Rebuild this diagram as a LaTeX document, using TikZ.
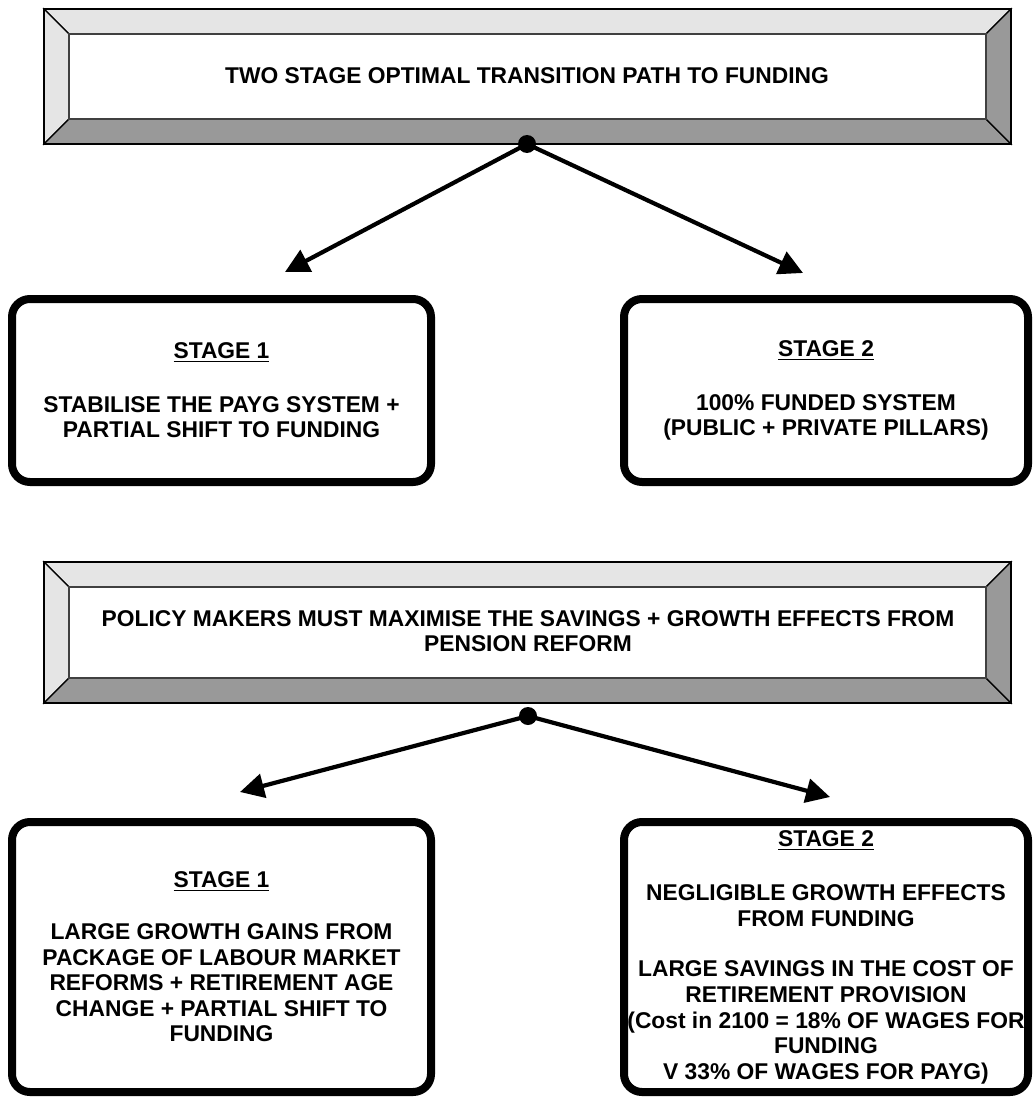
\documentclass[tikz,border=0pt]{standalone}
\usepackage{fontspec}
\setmainfont{Liberation Sans}
\usetikzlibrary{arrows.meta}
\def\bevelbox(#1,#2)(#3,#4)(#5){%
	\filldraw[fill=black!10] (#1,#2) -- (#3,#2) -- ({#3-#5},{#2+#5}) -- ({#1+#5},{#2+#5}) -- cycle;
	\filldraw[fill=black!10] (#1,#2) -- ({#1+#5},{#2+#5}) -- ({#1+#5},{#4-#5}) -- (#1,#4) -- cycle;
	\filldraw[fill=black!40] (#1,#4) -- ({#1+#5},{#4-#5}) -- ({#3-#5},{#4-#5}) -- (#3,#4) -- cycle;
	\filldraw[fill=black!40] (#3,#2) -- (#3,#4) -- ({#3-#5},{#4-#5}) -- ({#3-#5},{#2+#5}) -- cycle;
	\draw[black!75, line width=0.9pt] ({#1+#5},{#2+#5}) rectangle ({#3-#5},{#4-#5});
	\draw[line width=0.8pt] (#1,#2) rectangle (#3,#4);}

\begin{document}
\begin{tikzpicture}[x=0.5pt, y=-0.5pt, line width=0.6pt,
	font=\bfseries\fontsize{11.4pt}{12.8pt}\selectfont,
	stagebox/.style={draw, line width=4pt, rounded corners=9pt, align=center, inner sep=0pt},
	fork/.style={circle, fill=black, inner sep=0pt, minimum size=9pt},
	flow/.style={line width=2.1pt, -{Triangle[length=12pt,width=12pt]}}]
		%%%%% START %%%%%
		\useasboundingbox (0,0) rectangle (1033,1097);
		
		\bevelbox(44,9)(1011,144)(25)
		\node (title1) at (527,76) {TWO STAGE OPTIMAL TRANSITION PATH TO FUNDING};
		
		\node[fork] (fork1) at (527,144) {};
		\coordinate (tip1a) at (285,272);
		\coordinate (tip1b) at (803,273);
		\draw[flow] (fork1.center) -- (tip1a);
		\draw[flow] (fork1.center) -- (tip1b);
		
		\node[stagebox, minimum width=209.5pt, minimum height=91.5pt] (stage1a) at (221.5,390.5)
			{\underline{STAGE 1}\\[14pt] STABILISE THE PAYG SYSTEM +\\ PARTIAL SHIFT TO FUNDING};
		\node[stagebox, minimum width=202pt, minimum height=91.5pt] (stage2a) at (826,390.5)
			{\underline{STAGE 2}\\[14pt] 100\% FUNDED SYSTEM\\ (PUBLIC + PRIVATE PILLARS)};
		
		\bevelbox(44,562)(1011,703)(25)
		\node[align=center] (title2) at (528,631) {POLICY MAKERS MUST MAXIMISE THE SAVINGS + GROWTH EFFECTS FROM\\ PENSION REFORM};
		
		\node[fork] (fork2) at (528,716) {};
		\coordinate (tip2a) at (240,792);
		\coordinate (tip2b) at (830,797);
		\draw[flow] (fork2.center) -- (tip2a);
		\draw[flow] (fork2.center) -- (tip2b);
		
		\node[stagebox, minimum width=209.5pt, minimum height=135pt] (stage1b) at (221.5,957)
			{\underline{STAGE 1}\\[13pt] LARGE GROWTH GAINS FROM\\ PACKAGE OF LABOUR MARKET\\ REFORMS + RETIREMENT AGE\\ CHANGE + PARTIAL SHIFT TO\\ FUNDING};
		\node[stagebox, minimum width=202pt, minimum height=135pt] (stage2b) at (826,957)
			{\underline{STAGE 2}\\[14.5pt] NEGLIGIBLE GROWTH EFFECTS\\ FROM FUNDING\\[12.5pt] LARGE SAVINGS IN THE COST OF\\ RETIREMENT PROVISION\\ (Cost in 2100 = 18\% OF WAGES FOR\\ FUNDING\\ V 33\% OF WAGES FOR PAYG)};
		%%%%% END %%%%%
	\end{tikzpicture}
\end{document}
